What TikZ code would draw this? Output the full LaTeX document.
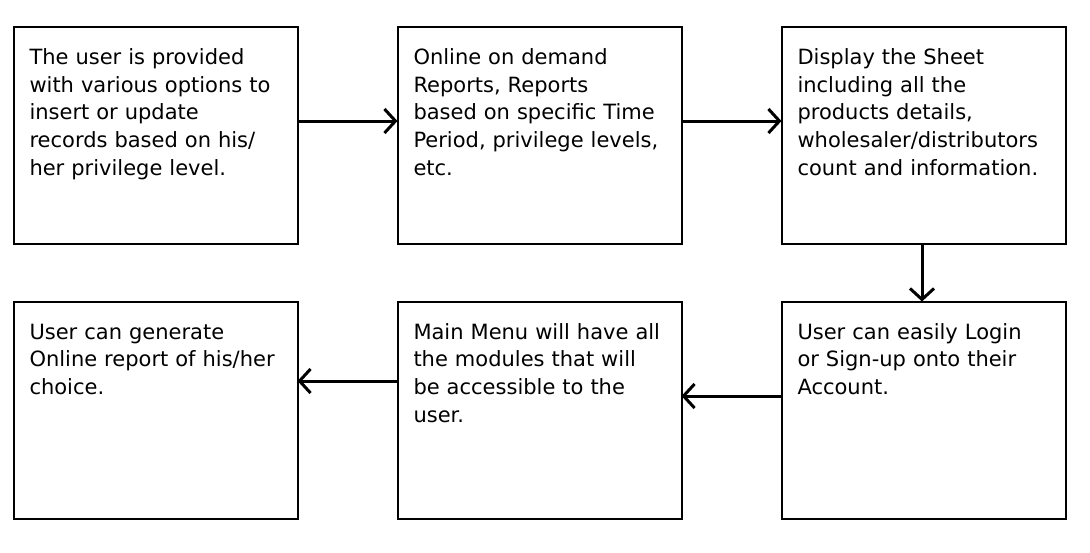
\documentclass[tikz,border=0pt]{standalone}
\usepackage{fontspec}
\setmainfont{DejaVu Sans}
\usetikzlibrary{arrows.meta}
\tikzset{
   process/.style={draw=black, line width=2pt, rectangle, anchor=north west,
      inner xsep=16pt, inner ysep=0pt, outer sep=0pt,
      text width=252pt, align=left,
      text height=37.5pt, text depth=179.5pt,
      font=\fontsize{21pt}{27.7pt}\selectfont},
   flow/.style={draw=black, line width=3pt,
      -{Straight Barb[length=11pt, width=24pt]}},
    }

\begin{document}
\begin{tikzpicture}[x=1pt, y=-1pt]
            \useasboundingbox (0,0) rectangle (1090,552);
            \node[process] (options) at (13.5,27) {The user is provided\\with various options to\\insert or update\\records based on his/\\her privilege level.};
            \node[process] (reports) at (397.5,27) {Online on demand\\Reports, Reports\\based on specific Time\\Period, privilege levels,\\etc.};
            \node[process] (sheet) at (781.5,27) {Display the Sheet\\including all the\\products details,\\wholesaler/distributors\\count and information.};
            \node[process] (generate) at (13.5,301.5) {User can generate\\Online report of his/her\\choice.};
            \node[process] (menu) at (397.5,301.5) {Main Menu will have all\\the modules that will\\be accessible to the\\user.};
            \node[process] (login) at (781.5,301.5) {User can easily Login\\or Sign-up onto their\\Account.};
            \draw[flow]([yshift=14.5pt]options.east)to([yshift=14.5pt]reports.west);
            \draw[flow]([yshift=14.5pt]reports.east)to([yshift=14.5pt]sheet.west);
            \draw[flow]([xshift=-1.5pt]sheet.south)to([xshift=-1.5pt]login.north);
            \draw[flow]([yshift=14pt]login.west)to([yshift=14pt]menu.east);
            \draw[flow]([yshift=29pt]menu.west)to([yshift=29pt]generate.east);
        \end{tikzpicture}
\end{document}
